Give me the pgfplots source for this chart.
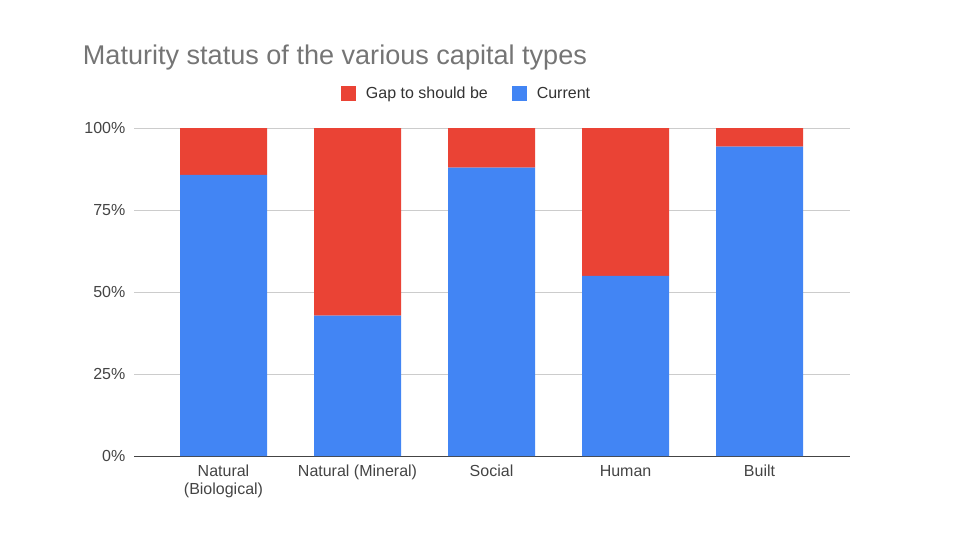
\documentclass[border=0pt]{standalone}
\usepackage{pgfplots}
\pgfplotsset{compat=1.18}
\usepackage{fontspec}
\setmainfont{Liberation Sans}
\definecolor{gblue}{HTML}{4285F4}
\definecolor{gred}{HTML}{EA4335}
\definecolor{gtitle}{HTML}{757575}
\definecolor{glabel}{HTML}{444444}
\definecolor{ggrid}{HTML}{CCCCCC}
\begin{document}
\begin{tikzpicture}[x=1pt,y=1pt]
\path[use as bounding box] (0,0) rectangle (720,405);
\node[anchor=west,text=gtitle,font=\fontsize{20.3}{23}\selectfont,inner sep=0pt] at (62,362) {Maturity status of the various capital types};
\begin{axis}[
  at={(100.5pt,63pt)}, anchor=south west,
  scale only axis, width=537pt, height=246pt,
  ybar stacked, bar width=0.649,
  xmin=-0.668, xmax=4.675, ymin=0, ymax=100,
  xtick=data,
  xticklabels={{Natural\\(Biological)},{Natural (Mineral)},Social,Human,Built},
  xticklabel style={align=center,font=\fontsize{12}{13.5}\selectfont,text=glabel,yshift=-3.5pt},
  ytick={0,25,50,75,100},
  yticklabel={\pgfmathprintnumber{\tick}\%},
  yticklabel style={font=\fontsize{12}{14}\selectfont,text=glabel,xshift=-3pt},
  /pgf/number format/assume math mode=true,
  major tick length=0pt,
  ymajorgrids, grid style={ggrid,line width=0.75pt},
  axis x line*=bottom,
  axis y line*=left,
  x axis line style={draw=glabel,line width=0.75pt,-},
  y axis line style={draw=none},
  enlargelimits=false,
  clip=false,
  reverse legend,
  legend style={at={(0.465,1.104)},anchor=center,draw=none,legend columns=2,
    font=\fontsize{12}{14}\selectfont,text=black!80,
    /tikz/every odd column/.append style={column sep=5.5pt},
    /tikz/every even column/.append style={column sep=16pt}},
  legend image code/.code={\fill[#1] (0pt,-5.6pt) rectangle (11.2pt,5.6pt);},
]
\addplot[fill=gblue,draw=none] coordinates {(0,85.7) (1,42.8) (2,87.9) (3,54.9) (4,94.3)};
\addplot[fill=gred,draw=none] coordinates {(0,14.3) (1,57.2) (2,12.1) (3,45.1) (4,5.7)};
\legend{Current,Gap to should be}
\end{axis}
\end{tikzpicture}
\end{document}
